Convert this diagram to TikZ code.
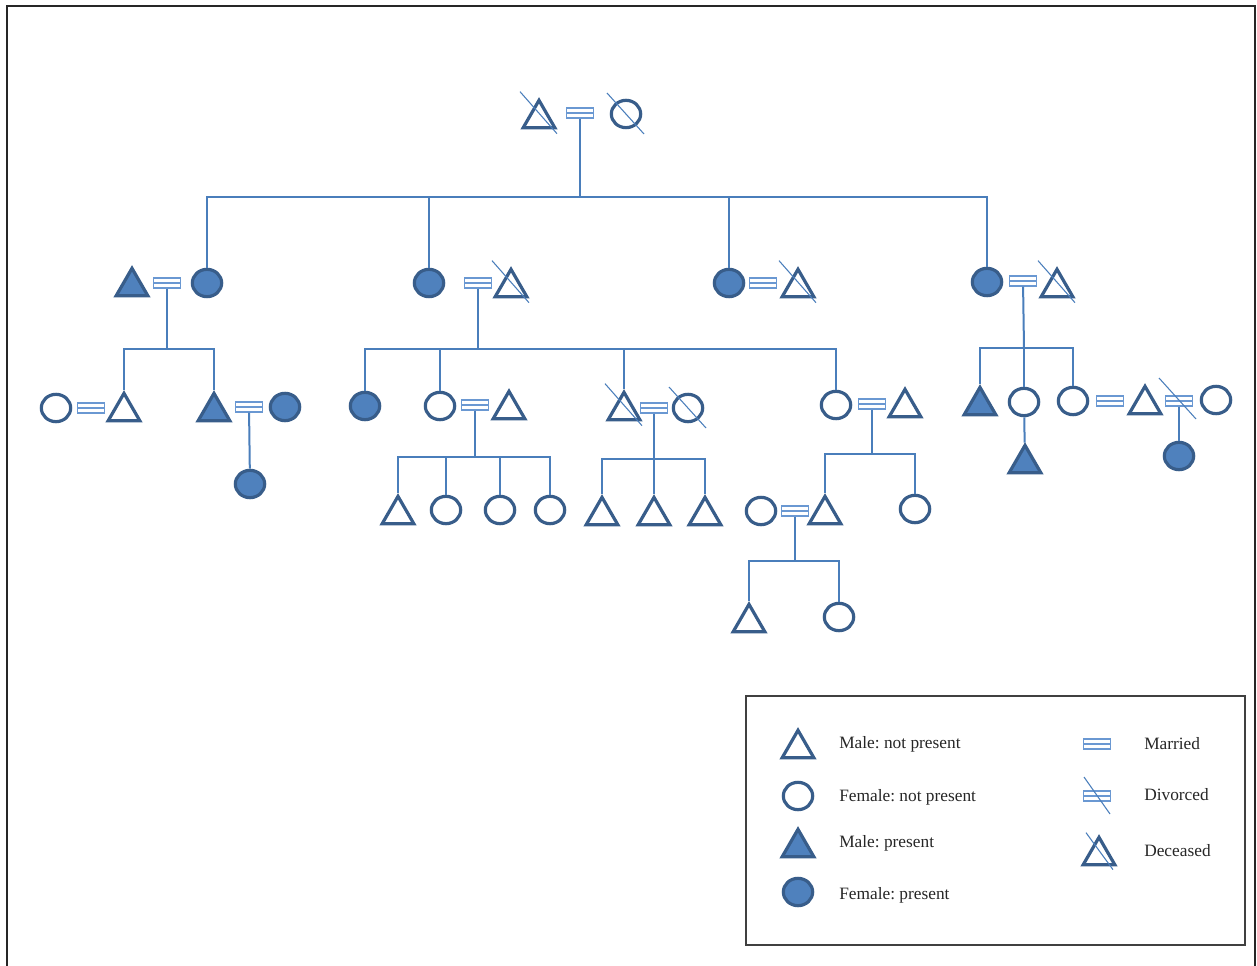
\documentclass[tikz,border=0pt]{standalone}
\usepackage{fontspec}
\setmainfont{Liberation Serif}
\usetikzlibrary{calc,shapes.geometric}
\definecolor{edgeblue}{HTML}{385D8A}
\definecolor{fillblue}{HTML}{4F81BD}
\definecolor{linkblue}{HTML}{4A7EBB}
\definecolor{wedblue}{HTML}{6A98D2}
\tikzset{
  person/.style={draw=edgeblue, line width=2.4pt, fill=white, inner sep=0pt},
  male/.style={person, regular polygon, regular polygon sides=3, minimum size=27.5pt, yshift=-3.5pt},
  female/.style={person, ellipse, minimum width=22pt, minimum height=20.5pt},
  present/.style={fill=fillblue},
  wed/.style={draw=wedblue, line width=0.8pt, fill=white, minimum width=20pt, minimum height=7.5pt, inner sep=0pt,
    path picture={\draw[wedblue, line width=0.6pt]
      ([yshift=0.5pt]path picture bounding box.west) -- ([yshift=0.5pt]path picture bounding box.east)
      ([yshift=-0.5pt]path picture bounding box.west) -- ([yshift=-0.5pt]path picture bounding box.east);}},
  link/.style={draw=linkblue, line width=1.5pt},
  strike/.style={draw=linkblue, line width=0.8pt},
  key/.style={anchor=west, inner sep=0pt, text=black!85, font=\fontsize{13}{15}\selectfont}
}
% strike-through marks for deceased people and divorced couples
\newcommand{\deadm}[1]{\draw[strike] ($(#1.center)+(-19,-27)$) -- ($(#1.center)+(18,15)$);}
\newcommand{\deadf}[1]{\draw[strike] ($(#1.center)+(-19,-21)$) -- ($(#1.center)+(18,20)$);}
\newcommand{\deadw}[1]{\draw[strike] ($(#1.center)+(-20,-23)$) -- ($(#1.center)+(17,18)$);}
\frenchspacing

\begin{document}
\begin{tikzpicture}[x=0.75pt, y=-0.75pt]
\useasboundingbox (0,0) rectangle (1257,966);
\draw[black!85, line width=1.5pt] (7,966) -- (7,6) -- (1255,6) -- (1255,966);

% first generation
\node[male] (gm) at (539,114) {};
\node[wed] (w0) at (580,113) {};
\node[female] (gf) at (626,114) {};
\deadm{gm} \deadf{gf}
\coordinate (j0) at (580,197);
\draw[link] (w0) -- (j0);

% second generation
\node[male,present] (a1) at (132,282) {};
\node[wed] (wa) at (167,283) {};
\node[female,present] (a2) at (207,283) {};
\node[female,present] (b1) at (429,283) {};
\node[wed] (wb) at (478,283) {};
\node[male] (b2) at (511,283) {};
\node[female,present] (c1) at (729,283) {};
\node[wed] (wc) at (763,283) {};
\node[male] (c2) at (798,283) {};
\node[female,present] (d1) at (987,282) {};
\node[wed] (wd) at (1023,281) {};
\node[male] (d2) at (1057,283) {};
\deadm{b2} \deadm{c2} \deadm{d2}
\foreach \k in {a2,b1,c1,d1} \draw[link] (j0) -| (\k);

% family a
\coordinate (ja) at (167,349);
\draw[link] (wa) -- (ja);
\node[female] (aa1) at (56,408) {};
\node[wed] (waa) at (91,408) {};
\node[male] (aa) at (124,407) {};
\node[male,present] (ab) at (214,407) {};
\node[wed] (wab) at (249,407) {};
\node[female,present] (ab2) at (285,407) {};
\node[female,present] (ab3) at (250,484) {};
\foreach \k in {aa,ab} \draw[link] (ja) -| (\k);
\draw[link] (wab) -- (ab3);

% family b
\coordinate (jb) at (478,349);
\draw[link] (wb) -- (jb);
\node[female,present] (ba) at (365,406) {};
\node[female] (bb) at (440,406) {};
\node[wed] (wbb) at (475,405) {};
\node[male] (bb2) at (509,405) {};
\node[male] (bc) at (624,406) {};
\node[wed] (wbc) at (654,408) {};
\node[female] (bc2) at (688,408) {};
\node[female] (bd) at (836,405) {};
\node[wed] (wbd) at (872,404) {};
\node[male] (bd2) at (905,403) {};
\deadm{bc} \deadf{bc2}
\foreach \k in {ba,bb,bc,bd} \draw[link] (jb) -| (\k);

\coordinate (jbb) at (475,457);
\draw[link] (wbb) -- (jbb);
\node[male] (bb3) at (398,510) {};
\node[female] (bb4) at (446,510) {};
\node[female] (bb5) at (500,510) {};
\node[female] (bb6) at (550,510) {};
\foreach \k in {bb3,bb4,bb5,bb6} \draw[link] (jbb) -| (\k);

\coordinate (jbc) at (654,459);
\draw[link] (wbc) -- (jbc);
\node[male] (bc3) at (602,511) {};
\node[male] (bc4) at (654,511) {};
\node[male] (bc5) at (705,511) {};
\foreach \k in {bc3,bc4,bc5} \draw[link] (jbc) -| (\k);

\coordinate (jbd) at (872,454);
\draw[link] (wbd) -- (jbd);
\node[female] (bd5) at (761,511) {};
\node[wed] (wbd3) at (795,511) {};
\node[male] (bd3) at (825,510) {};
\node[female] (bd4) at (915,509) {};
\foreach \k in {bd3,bd4} \draw[link] (jbd) -| (\k);

\coordinate (jbd3) at (795,561);
\draw[link] (wbd3) -- (jbd3);
\node[male] (bd6) at (749,618) {};
\node[female] (bd7) at (839,617) {};
\foreach \k in {bd6,bd7} \draw[link] (jbd3) -| (\k);

% family d
\coordinate (jd) at (1024,348);
\draw[link] (wd) -- (jd);
\node[male,present] (da) at (980,401) {};
\node[female] (db) at (1024,402) {};
\node[female] (dc) at (1073,401) {};
\node[male,present] (db2) at (1025,459) {};
\node[wed] (wdc) at (1110,401) {};
\node[male] (dc2) at (1145,400) {};
\node[wed] (wdx) at (1179,401) {};
\node[female] (dc3) at (1216,400) {};
\node[female,present] (dc4) at (1179,456) {};
\deadw{wdx}
\foreach \k in {da,db,dc} \draw[link] (jd) -| (\k);
\draw[link] (db) -- (db2);
\draw[link] (wdx) -- (dc4);

% legend
\draw[black!75, line width=0.8pt] (746,696) rectangle (1245,945);
\node[male] (k1) at (798,744) {};
\node[key] (t1) at (839,744) {Male: not present};
\node[female] (k2) at (798,796) {};
\node[key] (t2) at (839,797) {Female: not present};
\node[male,present] (k3) at (798,843) {};
\node[key] (t3) at (839,843) {Male: present};
\node[female,present] (k4) at (798,892) {};
\node[key] (t4) at (839,895) {Female: present};
\node[wed] (k5) at (1097,744) {};
\node[key] (t5) at (1144,744) {Married};
\node[wed] (k6) at (1097,796) {};
\node[key] (t6) at (1144,795) {Divorced};
\node[male] (k7) at (1099,851) {};
\node[key] (t7) at (1144,851) {Deceased};
\draw[strike] ($(k6.center)+(-13,-19)$) -- ($(k6.center)+(13,18)$);
\draw[strike] ($(k7.center)+(-13,-23)$) -- ($(k7.center)+(14,14)$);
\end{tikzpicture}
\end{document}
